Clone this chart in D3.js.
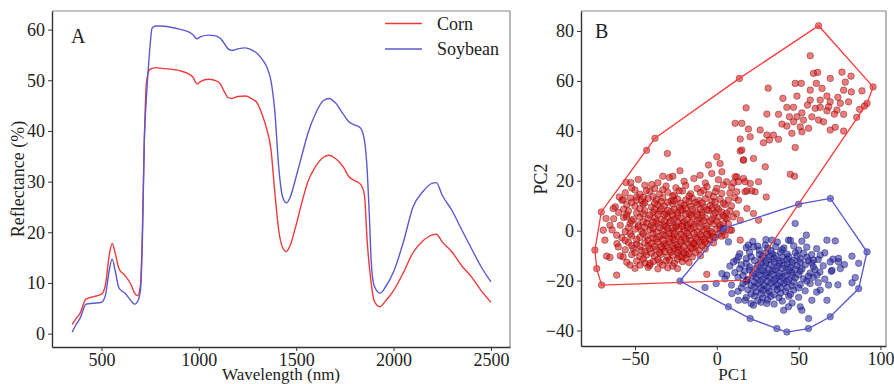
<!DOCTYPE html>
<html>
<head>
<meta charset="utf-8">
<script src="https://cdn.jsdelivr.net/npm/d3@7"></script>
<style>
  body { margin: 0; background: #fff; }
  svg text { font-family: "Liberation Serif", "Times New Roman", Times, serif; fill: #222; }
</style>
</head>
<body>
<script>
// ---- panel A: mean spectra ----
const wavelengths = [350, 370, 390, 420, 460, 500, 520, 540, 555, 570, 590, 620, 650, 670, 685, 700, 710, 720, 730, 740, 750, 760, 780, 800, 850, 900, 950, 970, 990, 1010, 1050, 1080, 1110, 1130, 1150, 1170, 1200, 1240, 1270, 1300, 1330, 1350, 1370, 1390, 1410, 1430, 1450, 1470, 1500, 1530, 1560, 1600, 1640, 1670, 1700, 1740, 1770, 1800, 1830, 1850, 1865, 1875, 1885, 1900, 1930, 1960, 2000, 2050, 2100, 2150, 2200, 2220, 2250, 2300, 2350, 2400, 2450, 2500];
const cornReflectance = [1.8, 3.0, 4.0, 6.8, 7.3, 7.8, 9.5, 15.5, 17.8, 16.0, 12.8, 11.5, 9.8, 8.0, 7.5, 9.5, 20, 38, 49, 51.5, 52.2, 52.3, 52.5, 52.4, 52.2, 51.9, 51.2, 50.6, 49.3, 49.8, 50.2, 50.0, 49.3, 47.8, 46.6, 46.4, 46.8, 46.9, 46.4, 45.5, 42.7, 40.2, 36.5, 28, 20.5, 17, 16.2, 17.5, 21.5, 26, 30, 33, 34.8, 35.2, 34.6, 33, 31, 30.2, 29.5, 27.5, 18, 13.5, 10, 6.5, 5.3, 6.5, 8.5, 12, 16, 18.3, 19.5, 19.6, 18.1, 16.1, 13.4, 11.2, 8.5, 6.2];
const soybeanReflectance = [0.3, 1.8, 3.0, 5.8, 6.0, 6.2, 7.5, 12.5, 14.7, 12.5, 9.0, 8.0, 6.6, 5.8, 6.3, 8.5, 18, 38, 46, 52, 57, 60.3, 60.7, 60.7, 60.5, 60.1, 59.5, 59.0, 58.2, 58.6, 58.9, 58.8, 58.3, 57.3, 56.2, 55.9, 56.2, 56.4, 56.0, 55.3, 53.9, 52.5, 50, 44, 33, 27, 25.8, 27, 31, 35.3, 39.5, 43.5, 46, 46.4, 45.6, 43.4, 41.8, 41.2, 40.6, 38.3, 32, 24, 14.5, 9.5, 8.0, 9.3, 12.2, 18, 25, 28, 29.7, 29.8, 27.3, 24.3, 20.5, 16.8, 13.2, 10.2];
const spectraTicksX = [500, 1000, 1500, 2000, 2500];
const spectraTicksY = [0, 10, 20, 30, 40, 50, 60];
const seriesNames = ["Corn", "Soybean"];

// ---- panel B: PCA scores (PC1, PC2) ----
const cornScores = [
  // dense core
  [-48,20.5],[-36,19.2],[-29,21.3],[-20,19.8],[-14,20.9],[-7,19.1],[1,20.4],[6,19.6],
  [-52,17.1],[-44,18.2],[-38,16.8],[-31,17.9],[-25,17.2],[-19,18.1],[-12,16.9],[-6,17.6],[0,17.0],[4,18.3],[9,17.4],
  [-56,15.2],[-47,14.6],[-41,15.8],[-35,14.7],[-30,15.4],[-26,14.3],[-21,15.9],[-16,14.8],[-10,15.3],[-5,14.5],[-1,15.6],[3,14.9],[8,15.1],
  [-58,12.2],[-53,13.1],[-46,12.0],[-42,12.9],[-37,12.4],[-33,13.2],[-28,11.9],[-24,12.7],[-19,12.3],[-15,13.0],[-11,12.1],[-7,12.8],[-3,11.8],[2,12.6],[7,12.3],[11,13.2],
  [-62,9.6],[-55,10.4],[-50,9.8],[-45,10.6],[-40,9.5],[-36,10.3],[-32,9.9],[-27,10.7],[-23,9.4],[-20,10.2],[-16,9.8],[-12,10.5],[-8,9.7],[-4,10.1],[0,9.3],[5,10.4],[9,9.9],
  [-60,7.3],[-54,7.9],[-49,7.1],[-44,8.0],[-39,7.4],[-35,7.8],[-31,6.9],[-28,7.7],[-24,7.2],[-21,8.1],[-17,7.0],[-13,7.6],[-9,7.3],[-5,8.0],[-1,7.1],[3,7.5],[8,7.9],[12,6.8],
  [-63,4.8],[-57,5.3],[-51,4.6],[-47,5.4],[-42,4.9],[-38,5.2],[-34,4.5],[-30,5.5],[-26,4.7],[-22,5.1],[-18,4.4],[-15,5.6],[-11,4.9],[-7,5.2],[-3,4.6],[1,5.3],[6,4.8],[10,5.5],
  [-59,2.2],[-53,2.9],[-48,2.4],[-43,3.0],[-40,2.1],[-36,2.7],[-32,2.3],[-29,3.1],[-25,2.0],[-21,2.8],[-18,2.2],[-14,2.6],[-10,3.0],[-6,2.1],[-2,2.7],[2,2.3],[7,2.9],
  [-64,0.3],[-56,-0.4],[-50,0.6],[-46,-0.2],[-41,0.4],[-37,-0.5],[-33,0.2],[-30,0.8],[-27,-0.3],[-23,0.5],[-20,-0.1],[-16,0.7],[-12,-0.4],[-8,0.3],[-4,-0.2],[0,0.6],[4,-0.3],[9,0.2],
  [-58,-2.8],[-52,-2.1],[-47,-2.7],[-43,-2.2],[-39,-3.0],[-35,-2.4],[-31,-2.0],[-27,-2.9],[-24,-2.3],[-20,-2.6],[-17,-2.1],[-13,-2.8],[-9,-2.4],[-5,-2.0],[-1,-2.7],[3,-2.2],
  [-61,-5.2],[-54,-4.7],[-49,-5.4],[-44,-4.9],[-40,-5.1],[-36,-4.6],[-32,-5.3],[-29,-4.8],[-25,-5.5],[-22,-4.7],[-18,-5.0],[-14,-5.4],[-10,-4.6],[-6,-5.1],[-2,-4.9],
  [-56,-7.7],[-51,-7.1],[-46,-7.9],[-41,-7.3],[-37,-7.6],[-33,-7.0],[-29,-7.8],[-26,-7.2],[-22,-7.5],[-18,-8.0],[-15,-7.1],[-11,-7.7],[-7,-7.3],
  [-59,-10.1],[-52,-9.6],[-47,-10.4],[-43,-9.8],[-38,-10.2],[-34,-9.5],[-30,-10.6],[-27,-9.9],[-23,-10.3],[-19,-9.7],[-15,-10.5],[-10,-10.0],
  [-55,-12.7],[-49,-12.2],[-44,-12.9],[-39,-12.4],[-35,-12.6],[-31,-12.1],[-26,-13.0],[-21,-12.4],[-17,-12.8],
  [-50,-15.1],[-42,-14.7],[-36,-15.3],[-30,-14.9],[-24,-15.2],
  [-38,11.1],[-30,11.4],[-22,11.0],[-13,11.3],[-34,8.8],[-26,8.6],[-19,9.0],[-10,8.7],[-3,8.9],
  [-41,6.2],[-32,6.4],[-24,6.0],[-16,6.3],[-9,6.1],[-37,3.8],[-28,4.0],[-20,3.6],[-12,3.9],[-4,3.7],
  [-44,1.4],[-35,1.2],[-25,1.5],[-18,1.1],[-10,1.3],[-39,-1.2],[-29,-1.0],[-22,-1.4],[-14,-1.1],[-6,-1.3],
  [-33,-3.8],[-26,-3.6],[-16,-3.9],[-8,-3.5],[-38,-6.3],[-31,-6.1],[-24,-6.5],[-13,-6.2],[-35,-8.8],[-28,-8.6],[-20,-9.0],
  [-50,16.3],[-43,16.1],[-33,16.4],[-23,16.0],[-8,16.2],[-2,13.6],[-17,13.9],[-39,13.7],[-49,13.5],[-27,13.8],
  [-52,11.3],[-44,11.2],[-34,11.6],[-26,11.9],[-17,11.6],[-9,11.1],[-1,11.4],[4,11.0],
  [-57,8.6],[-47,8.9],[-38,8.5],[-30,8.2],[-22,8.4],[-15,8.5],[-6,8.4],[1,8.6],[6,7.0],
  [-55,6.4],[-45,6.7],[-36,6.5],[-27,6.1],[-19,6.6],[-12,6.4],[-2,6.3],[4,6.1],
  [-52,3.9],[-45,3.6],[-39,3.3],[-32,3.7],[-24,3.4],[-16,3.2],[-8,3.9],[0,3.8],[4,2.8],
  [-54,1.2],[-48,1.6],[-39,1.0],[-31,1.7],[-27,1.1],[-21,1.8],[-14,1.4],[-6,0.9],[2,1.1],
  [-53,-1.3],[-45,-1.1],[-33,-1.6],[-26,-1.3],[-18,-0.9],[-10,-1.6],[-3,-1.0],[1,-1.4],
  [-56,-3.9],[-49,-3.6],[-42,-3.8],[-37,-3.4],[-29,-3.3],[-22,-3.9],[-19,-3.5],[-12,-3.6],[-4,-3.7],
  [-52,-6.0],[-47,-6.3],[-42,-6.2],[-34,-6.4],[-27,-6.0],[-20,-6.3],[-16,-6.6],[-9,-6.0],
  [-50,-8.8],[-44,-8.5],[-40,-9.0],[-32,-8.4],[-24,-8.8],[-17,-9.2],[-13,-8.7],
  [-45,-11.3],[-36,-11.5],[-29,-11.8],[-24,-11.4],[-19,-11.2],[-41,-13.9],[-33,-13.8],[-27,-14.2],
  // sparse edge of the cluster
  [-30.2,30.9],[-33,21.8],[-26.9,21.8],[-52.6,19.3],[-55.5,19.3],[-39.8,18.5],[-70.6,7.5],[-67.7,4.9],
  [-59.6,13.5],[-57.2,12.5],[-63.3,8.9],[-65.3,2.2],[-61.2,-1.8],[-74.5,-7.8],[-67.3,-10.2],[-73.4,-15.2],
  [-70.4,-21.8],[-61.2,-17.8],[-53.1,-13.8],[-46.9,-13.8],[-40.8,-13.1],[-65.3,-10.7],[-57.2,-10.5],[-60.2,-6.5],
  [-69.4,0.2],[-68.4,-3.8],[-55.1,5.5],[-49,12.2],[-44.9,13.5],[-37.8,37],[-42.9,32.2],
  [0,29.6],[16.3,28.3],[14.3,31.9],[-5.1,26.3],[2,26.9],[-22.5,24],[-10.2,22.2],[-3.1,22.9],[3.1,23.6],
  [12.2,21.6],[16.3,20.9],[20.4,18.9],[25.5,19.6],[17.3,15.6],[23.4,15.6],[13.2,12.2],[18.4,8.9],
  [22.4,6.9],[25.5,4.2],[14.3,4.2],[5.1,-1.8],[14.3,-3.8],[8.1,0.2],[5.1,5.5],[-21.4,-10.5],[-23.5,-7.8],
  [-14.3,-5.1],[-7.2,-4.5],[-2.1,-2.5],[-6.1,-17.5],[18.4,-19.8],
  // sparse tail toward high PC1 / PC2
  [62.2,82.1],[95.5,57.6],[13.8,61.0],[57.1,70.1],[59.1,63.0],[61.6,63.4],[76.5,63.5],[82,61.9],[69.3,61],
  [78.5,59.5],[88.7,56],[82.2,55.6],[77.5,56.3],[47.9,59],[51.6,59],[60.8,59],[64.3,57],[57.1,56.3],
  [31.4,57.1],[40.4,53],[49,53.9],[57.1,52.3],[63.2,52.3],[67.3,53.9],[69.3,51.6],[74,53.4],[75.5,51],
  [80.5,51.6],[91.8,51],[87.3,48.6],[90.3,49.9],[42.8,49.4],[46.9,49.4],[55.4,50.3],[60.2,49],[63.2,49.4],
  [68.3,49.6],[73.4,48.3],[77.5,46.6],[71.8,46.7],[67.3,48],[17.9,49.2],[30.6,46.7],[37.7,46.6],[44.4,45.6],
  [49,45.6],[52,47.2],[53,44.3],[58.1,45.6],[62.2,44.3],[65.2,43.6],[85.5,45.4],[11.2,43],[15.3,43],
  [39.8,42.7],[42.8,41.9],[46.9,43.6],[51,41.6],[56.1,41],[69.3,40.3],[72.4,41.4],[77.5,39.9],[19.3,40.7],
  [26.5,40.3],[30.6,38.3],[45.9,39],[52,39.6],[34.6,38.3],[20.4,37.6],[14.3,36.7],[28.5,35.2],[32.2,36.3],
  [37.7,36.6],[47.9,33.3],[15.3,32.3],[16.3,28.3],[22.4,28.9],[29.6,25.6],[44.9,22.6],[47.5,21.8],
  [11.2,21.6],[10.2,19.2],[13.2,19.6],[17.3,19.6],[18.4,16],[21.4,16],[12.2,15.6],[30.2,13.5]
];
const soybeanScores = [
  // dense core
  [22,-4.3],[30,-3.6],[37,-4.6],[45,-3.9],[52,-4.2],
  [18,-6.8],[25,-6.2],[31,-7.0],[36,-6.4],[41,-6.9],[47,-6.1],[55,-6.6],[61,-7.2],
  [14,-9.2],[20,-8.7],[26,-9.5],[30,-8.9],[34,-9.3],[39,-8.6],[43,-9.4],[48,-8.8],[53,-9.1],[58,-9.6],[66,-8.9],
  [12,-11.8],[18,-11.2],[23,-12.0],[27,-11.4],[31,-11.7],[35,-11.1],[39,-12.1],[43,-11.5],[47,-11.9],[51,-11.3],[56,-12.0],[62,-11.6],[71,-11.4],
  [8,-14.2],[15,-13.7],[20,-14.5],[25,-13.9],[29,-14.3],[33,-13.6],[37,-14.4],[41,-13.8],[45,-14.6],[49,-14.0],[54,-13.7],[59,-14.5],[65,-14.1],[78,-13.6],
  [11,-16.8],[17,-16.2],[22,-17.0],[26,-16.4],[30,-16.9],[34,-16.1],[38,-17.1],[42,-16.5],[46,-16.8],[51,-16.2],[57,-17.0],[63,-16.6],[70,-16.3],
  [5,-19.3],[13,-18.7],[19,-19.5],[24,-18.9],[28,-19.4],[32,-18.6],[36,-19.2],[40,-18.8],[44,-19.6],[48,-18.9],[53,-19.3],[59,-18.7],[66,-19.4],
  [9,-21.8],[16,-21.2],[21,-22.0],[25,-21.4],[29,-21.9],[33,-21.1],[37,-21.7],[41,-21.3],[46,-22.1],[51,-21.6],[57,-21.2],[74,-21.7],
  [13,-24.3],[19,-23.7],[24,-24.5],[28,-23.9],[32,-24.2],[37,-23.6],[42,-24.4],[47,-23.8],[54,-24.1],[61,-24.6],
  [18,-26.8],[23,-26.2],[28,-27.0],[33,-26.4],[38,-26.9],[44,-26.3],[50,-26.7],
  [21,-29.2],[27,-28.7],[35,-29.4],[46,-29.0],
  [28,-10.3],[36,-10.1],[44,-10.4],[24,-15.2],[32,-15.4],[40,-15.1],[48,-15.5],[27,-20.3],[35,-20.1],[43,-20.4],
  [30,-12.9],[38,-13.0],[46,-12.8],[22,-18.0],[30,-17.8],[38,-18.2],[46,-17.9],[31,-22.7],[39,-22.9],[27,-25.4],[35,-25.6],
  [26,-7.8],[33,-8.0],[40,-7.6],[50,-7.8],[21,-10.5],[32,-10.4],[40,-10.6],[49,-10.2],[55,-10.6],
  [18,-13.1],[27,-13.0],[35,-12.7],[43,-13.2],[51,-12.7],[58,-13.0],
  [14,-15.3],[20,-15.7],[28,-15.8],[36,-15.6],[44,-15.7],[52,-15.3],[60,-15.6],
  [16,-18.0],[26,-17.8],[34,-17.6],[42,-18.1],[50,-17.7],[56,-18.3],
  [18,-20.4],[23,-20.6],[31,-20.2],[39,-20.5],[47,-20.6],[55,-20.2],[62,-20.8],
  [15,-22.9],[23,-22.7],[27,-23.0],[35,-22.6],[43,-22.8],[50,-22.9],
  [21,-25.3],[31,-25.2],[39,-25.0],[45,-25.5],[25,-28.0],[31,-27.8],[40,-28.2],
  // scattered points
  [47.9,2.9],[54.7,-1.8],[67.3,-3.8],[72.4,-4.1],[74.4,-11.1],[82.6,-10.2],[86.7,-13.1],[84.6,-18.8],[82.6,-20.9],
  [68.3,-21.8],[67.3,-27.9],[58.1,-27.9],[51,-30.5],[52,-31.9],[56.1,-35.2],[43.8,-30.5],[40.8,-31.9],[30.6,-29.2],
  [22.4,-29.9],[17.3,-27.9],[13.2,-27.9],[9.2,-25.2],[6.1,-17.8],[3.1,-17.2],[13.2,-10.5],[10.2,-12.5],
  [22.4,-6.5],[29.6,-5.8],[33.7,-3.8],[43.8,-3.8],[7.1,-4.5],[19.3,-5.8],[59.1,-11.8],[63.2,-9.8],[69.3,-12.5],
  [74.4,-12.5],[61.2,-17.8],[70.4,-15.9],[75.5,-15.2],[63.2,-23.8],[-7.2,-22.8],[-0.4,-21.2],
  // hull corners
  [69.4,12.9],[91.8,-8.5],[86.7,-23.2],[69.3,-34.5],[56,-39.2],[42.8,-40.6],[36.7,-39.2],[20.4,-35.2],
  [7.1,-30.5],[-22.5,-20.2],[4,0.9],[50,10.6]
];
const pcaTicksX = [-50, 0, 50, 100];
const pcaTicksY = [-40, -20, 0, 20, 40, 60, 80];

const colors = { corn: "#f23a3a", soybean: "#5a5ad2" };
const serif = "'Liberation Serif', 'Times New Roman', Times, serif";

const svg = d3.select("body").append("svg")
  .attr("width", 894)
  .attr("height", 384)
  .attr("font-family", serif);

// lighter top/right spines; left/bottom come from the axes
function drawFrame(g, x0, x1, y0, y1) {
  g.append("line").attr("x1", x0).attr("x2", x1).attr("y1", y0).attr("y2", y0)
    .attr("stroke", "#8a8a8a").attr("stroke-width", 1.2);
  g.append("line").attr("x1", x1).attr("x2", x1).attr("y1", y0).attr("y2", y1)
    .attr("stroke", "#8a8a8a").attr("stroke-width", 1.2);
}

function styleAxis(sel) {
  sel.attr("font-family", serif).attr("font-size", 18);
  sel.select(".domain").attr("stroke", "#333").attr("stroke-width", 1.4);
  sel.selectAll(".tick line").attr("stroke", "#333").attr("stroke-width", 1);
  sel.selectAll(".tick text").attr("fill", "#222");
}

const minus = d => d < 0 ? "\u2212" + Math.abs(d) : String(d);

function label(g, x, y, text, size) {
  return g.append("text")
    .attr("x", x).attr("y", y)
    .attr("font-family", serif)
    .attr("font-size", size)
    .text(text);
}

// ---------- Panel A ----------
const xA = d3.scaleLinear().domain([246, 2598]).range([52, 510]);
const yA = d3.scaleLinear().domain([-2.64, 63.67]).range([347, 11]);

const gA = svg.append("g");
drawFrame(gA, 52, 510, 11, 347);

gA.append("g")
  .attr("transform", "translate(0,347)")
  .call(d3.axisBottom(xA).tickValues(spectraTicksX).tickFormat(d3.format("d"))
    .tickSize(4).tickPadding(2).tickSizeOuter(0))
  .call(styleAxis);
gA.append("g")
  .attr("transform", "translate(52,0)")
  .call(d3.axisLeft(yA).tickValues(spectraTicksY).tickSize(4).tickPadding(3).tickSizeOuter(0))
  .call(styleAxis);

const lineA = d3.line()
  .x(d => xA(d[0]))
  .y(d => yA(d[1]))
  .curve(d3.curveMonotoneX);

const spectra = [
  { name: seriesNames[0], color: colors.corn, values: wavelengths.map((w, i) => [w, cornReflectance[i]]) },
  { name: seriesNames[1], color: colors.soybean, values: wavelengths.map((w, i) => [w, soybeanReflectance[i]]) }
];

spectra.forEach(s => {
  gA.append("path")
    .datum(s.values)
    .attr("fill", "none")
    .attr("stroke", s.color)
    .attr("stroke-width", 1.4)
    .attr("d", lineA);
});

// legend
spectra.forEach((s, i) => {
  const ly = 23.5 + i * 25.5;
  gA.append("line")
    .attr("x1", 385).attr("x2", 422).attr("y1", ly).attr("y2", ly)
    .attr("stroke", s.color).attr("stroke-width", 1.4);
  label(gA, 437, ly + 6, s.name, 18);
});

label(gA, 71, 43, "A", 20);
label(gA, 281, 380, "Wavelength (nm)", 17).attr("text-anchor", "middle");
label(gA, 0, 0, "Reflectance (%)", 18)
  .attr("text-anchor", "middle")
  .attr("transform", "translate(24,179) rotate(-90)");

// ---------- Panel B ----------
const xB = d3.scaleLinear().domain([-83, 103.4]).range([581, 886]);
const yB = d3.scaleLinear().domain([-46.2, 88]).range([346, 11]);

const gB = svg.append("g");
drawFrame(gB, 581, 886, 11, 346);

gB.append("g")
  .attr("transform", "translate(0,346)")
  .call(d3.axisBottom(xB).tickValues(pcaTicksX).tickFormat(minus)
    .tickSize(4).tickPadding(2).tickSizeOuter(0))
  .call(styleAxis);
gB.append("g")
  .attr("transform", "translate(581,0)")
  .call(d3.axisLeft(yB).tickValues(pcaTicksY).tickFormat(minus)
    .tickSize(4).tickPadding(3).tickSizeOuter(0))
  .call(styleAxis);

const groups = [
  { scores: cornScores, fill: "#d81010", edge: "#5a0000", hull: "#ff3b3b" },
  { scores: soybeanScores, fill: "#2222a0", edge: "#0c0c55", hull: "#5555d0" }
];

groups.forEach(grp => {
  gB.append("g").selectAll("circle")
    .data(grp.scores)
    .enter()
    .append("circle")
    .attr("cx", d => xB(d[0]))
    .attr("cy", d => yB(d[1]))
    .attr("r", 3.3)
    .attr("fill", grp.fill)
    .attr("fill-opacity", 0.55)
    .attr("stroke", grp.edge)
    .attr("stroke-opacity", 0.6)
    .attr("stroke-width", 0.6);
});

groups.forEach(grp => {
  const hull = d3.polygonHull(grp.scores.map(d => [xB(d[0]), yB(d[1])]));
  gB.append("path")
    .attr("d", "M" + hull.join("L") + "Z")
    .attr("fill", "none")
    .attr("stroke", grp.hull)
    .attr("stroke-width", 1.3);
});

label(gB, 595, 38, "B", 20);
label(gB, 733, 380, "PC1", 17).attr("text-anchor", "middle");
label(gB, 0, 0, "PC2", 18)
  .attr("text-anchor", "middle")
  .attr("transform", "translate(547,179) rotate(-90)");
</script>
</body>
</html>
